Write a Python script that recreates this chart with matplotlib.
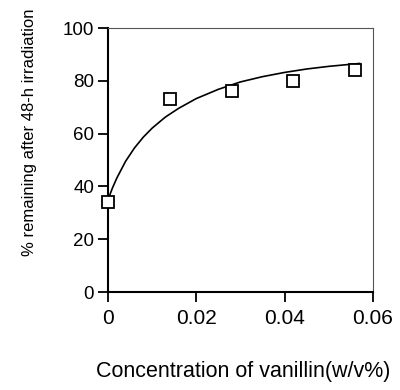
import matplotlib
matplotlib.use("Agg")
import matplotlib.pyplot as plt

plt.rcParams["font.family"] = ["Liberation Sans", "DejaVu Sans"]

# measured points
conc = [0.0, 0.014, 0.028, 0.042, 0.056]
remaining = [34.0, 73.0, 76.0, 79.8, 84.3]

# fitted curve
fit_x = [0.0, 0.001, 0.002, 0.004, 0.006, 0.008, 0.010, 0.013, 0.016,
         0.020, 0.025, 0.030, 0.035, 0.040, 0.045, 0.050, 0.057]
fit_y = [35.0, 39.4, 43.2, 49.6, 54.6, 58.7, 62.1, 66.3, 69.6,
         73.3, 76.8, 79.6, 81.6, 83.2, 84.5, 85.5, 86.6]

xticks = [0, 0.02, 0.04, 0.06]
xtick_labels = ["0", "0.02", "0.04", "0.06"]
yticks = [0, 20, 40, 60, 80, 100]

fig = plt.figure(figsize=(4, 3.9), dpi=100)
ax = fig.add_axes([0.27, 0.251, 0.662, 0.677])

ax.plot(fit_x, fit_y, color="black", linewidth=1.2, zorder=2)
ax.plot(conc, remaining, linestyle="none", marker="s", markersize=8.5,
        markerfacecolor="white", markeredgecolor="black",
        markeredgewidth=1.3, clip_on=False, zorder=3)

ax.set_xlim(0, 0.06)
ax.set_ylim(0, 100)
ax.set_xticks(xticks)
ax.set_xticklabels(xtick_labels)
ax.set_yticks(yticks)

ax.tick_params(direction="out", length=7, width=1.3)
ax.tick_params(axis="x", pad=5, labelsize=15)
ax.tick_params(axis="y", pad=3, labelsize=13.5)

for side in ["left", "bottom"]:
    ax.spines[side].set_linewidth(1.5)
for side in ["top", "right"]:
    ax.spines[side].set_linewidth(0.8)
    ax.spines[side].set_color("#555555")

ax.set_xlabel("Concentration of vanillin(w/v%)", fontsize=15.5)
ax.set_ylabel("% remaining after 48-h irradiation", fontsize=12)
ax.xaxis.set_label_coords(0.51, -0.26)
ax.yaxis.set_label_coords(-0.27, 0.606)

fig.savefig("out.png", dpi=100)
